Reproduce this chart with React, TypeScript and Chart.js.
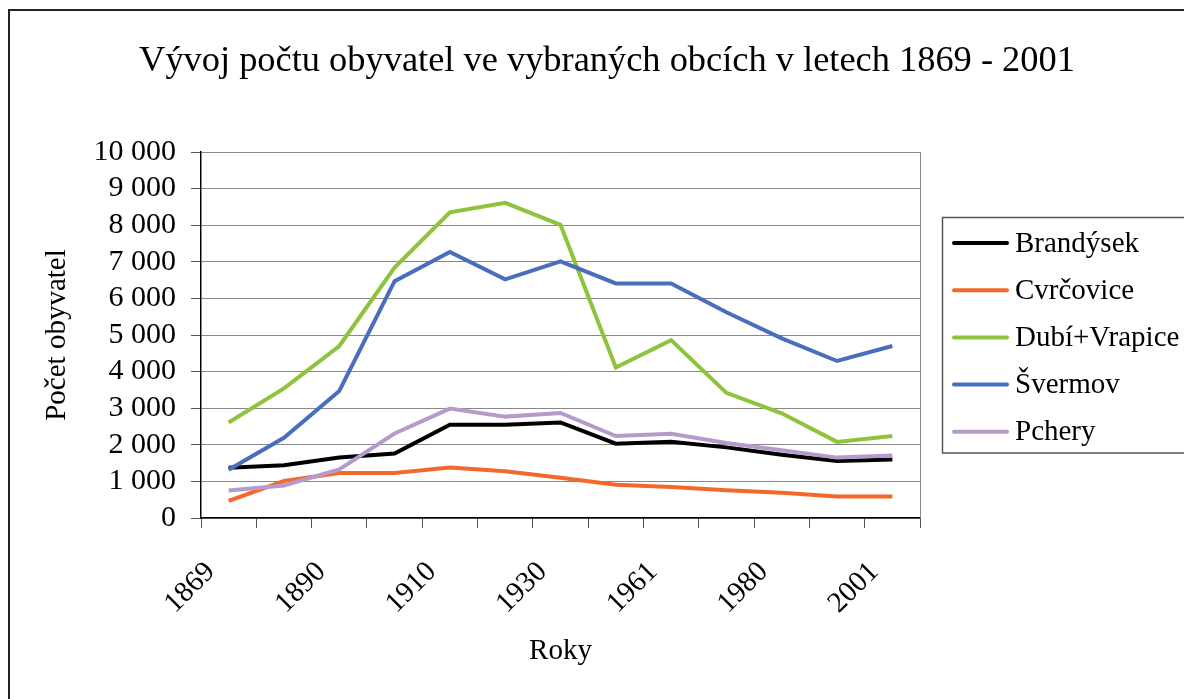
import React, { useEffect, useRef } from "react";
import { Chart, registerables } from "chart.js";

Chart.register(...registerables);

const chartTitle = "Vývoj počtu obyvatel ve vybraných obcích v letech 1869 - 2001";
const xAxisTitle = "Roky";
const yAxisTitle = "Počet obyvatel";

const years = ["1869", "1880", "1890", "1900", "1910", "1921", "1930", "1950", "1961", "1970", "1980", "1991", "2001"];

const seriesNames = ["Brandýsek", "Cvrčovice", "Dubí+Vrapice", "Švermov", "Pchery"];
const seriesColors = ["#000000", "#F4692A", "#8FC23D", "#4A6EBE", "#B59BCB"];

const brandysek = [1370, 1440, 1650, 1760, 2550, 2550, 2610, 2030, 2080, 1930, 1730, 1560, 1600];
const cvrcovice = [470, 1010, 1230, 1230, 1380, 1280, 1100, 910, 850, 760, 690, 590, 590];
const dubiVrapice = [2610, 3540, 4700, 6840, 8350, 8610, 8010, 4110, 4860, 3420, 2860, 2080, 2240];
const svermov = [1320, 2190, 3470, 6470, 7270, 6520, 7010, 6410, 6410, 5620, 4910, 4290, 4700];
const pchery = [750, 890, 1330, 2310, 2990, 2770, 2870, 2240, 2300, 2050, 1850, 1650, 1710];

const seriesValues = [brandysek, cvrcovice, dubiVrapice, svermov, pchery];

const FONT = "'Liberation Serif', 'Times New Roman', Times, serif";

const fmt = (v: number) => String(v).replace(/\B(?=(\d{3})+(?!\d))/g, " ");

const decorPlugin = {
  id: "decor",
  afterDraw(chart: any) {
    const { ctx, chartArea } = chart;
    ctx.save();
    // outer frame (left and top visible)
    ctx.fillStyle = "#222";
    ctx.fillRect(8, 9, chart.width, 2);
    ctx.fillRect(8, 9, 2, chart.height);

    // plot area right border
    ctx.strokeStyle = "#888888";
    ctx.lineWidth = 1;
    ctx.beginPath();
    ctx.moveTo(Math.round(chartArea.right) + 0.5, chartArea.top);
    ctx.lineTo(Math.round(chartArea.right) + 0.5, chartArea.bottom);
    ctx.stroke();

    // title
    ctx.fillStyle = "#000";
    ctx.font = `36.4px ${FONT}`;
    ctx.textAlign = "center";
    ctx.textBaseline = "alphabetic";
    ctx.fillText(chartTitle, 607, 71);

    // legend
    const lx = Math.round(chartArea.right) + 22;
    const ly = 217;
    const rowH = 47.2;
    const lh = rowH * seriesNames.length;
    ctx.strokeStyle = "#555";
    ctx.lineWidth = 1.5;
    ctx.beginPath();
    ctx.moveTo(chart.width + 10, ly + 0.5);
    ctx.lineTo(lx + 0.5, ly + 0.5);
    ctx.lineTo(lx + 0.5, ly + lh);
    ctx.lineTo(chart.width + 10, ly + lh);
    ctx.stroke();
    ctx.font = `29px ${FONT}`;
    ctx.textAlign = "left";
    ctx.textBaseline = "middle";
    seriesNames.forEach((name, i) => {
      const cy = ly + 26 + i * rowH;
      ctx.strokeStyle = seriesColors[i];
      ctx.lineWidth = 4;
      ctx.lineCap = "round";
      ctx.beginPath();
      ctx.moveTo(lx + 12, cy);
      ctx.lineTo(lx + 65, cy);
      ctx.stroke();
      ctx.fillStyle = "#000";
      ctx.fillText(name, lx + 73, cy + 1);
    });
    ctx.restore();
  },
};

export default function App() {
  const ref = useRef<HTMLCanvasElement | null>(null);

  useEffect(() => {
    if (!ref.current) return;
    const n = seriesNames.length;
    const chart = new Chart(ref.current, {
      type: "line",
      data: {
        labels: years,
        datasets: seriesNames.map((name, i) => ({
          label: name,
          data: seriesValues[i],
          borderColor: seriesColors[i],
          backgroundColor: seriesColors[i],
          borderWidth: 4,
          pointRadius: 0,
          tension: 0,
          fill: false,
          order: n - i,
        })),
      },
      options: {
        responsive: false,
        animation: false,
        layout: { padding: { left: 0, top: 152, right: 264, bottom: 0 } },
        plugins: {
          legend: { display: false },
          title: { display: false },
          tooltip: { enabled: false },
        },
        scales: {
          x: {
            type: "category",
            offset: true,
            afterFit: (s: any) => {
              s.height = 181;
            },
            grid: {
              display: true,
              offset: true,
              drawOnChartArea: false,
              drawTicks: true,
              tickLength: 10,
              tickColor: "#555",
            },
            border: { display: true, color: "#000", width: 1.5 },
            ticks: {
              autoSkip: false,
              maxRotation: 45,
              minRotation: 45,
              padding: 27,
              labelOffset: -18,
              color: "#000",
              font: { family: FONT, size: 29, lineHeight: 1.2 },
              callback: (_v: any, idx: number) => (idx % 2 === 0 ? years[idx] : ""),
            },
            title: {
              display: true,
              text: xAxisTitle,
              color: "#000",
              font: { family: FONT, size: 29, lineHeight: 1.2 },
              padding: { top: 0, bottom: 30 },
            },
          },
          y: {
            min: 0,
            max: 10000,
            afterFit: (s: any) => {
              s.width = 201;
            },
            grid: {
              color: "#888888",
              lineWidth: 1,
              drawTicks: true,
              tickLength: 10,
              tickColor: "#555",
            },
            border: { display: true, color: "#000", width: 1.5 },
            ticks: {
              stepSize: 1000,
              autoSkip: false,
              maxTicksLimit: 20,
              padding: 15,
              color: "#000",
              font: { family: FONT, size: 30, lineHeight: 1.2 },
              callback: (v: any) => fmt(Number(v)),
            },
            title: {
              display: true,
              text: yAxisTitle,
              color: "#000",
              font: { family: FONT, size: 29, lineHeight: 1.2 },
              padding: { top: 40, bottom: 0 },
            },
          },
        },
      },
      plugins: [decorPlugin],
    });
    return () => chart.destroy();
  }, []);

  return (
    <div style={{ position: "fixed", left: 0, top: 0, width: 1184, height: 699, background: "#fff" }}>
      <canvas ref={ref} width={1184} height={699} style={{ display: "block" }} />
    </div>
  );
}
